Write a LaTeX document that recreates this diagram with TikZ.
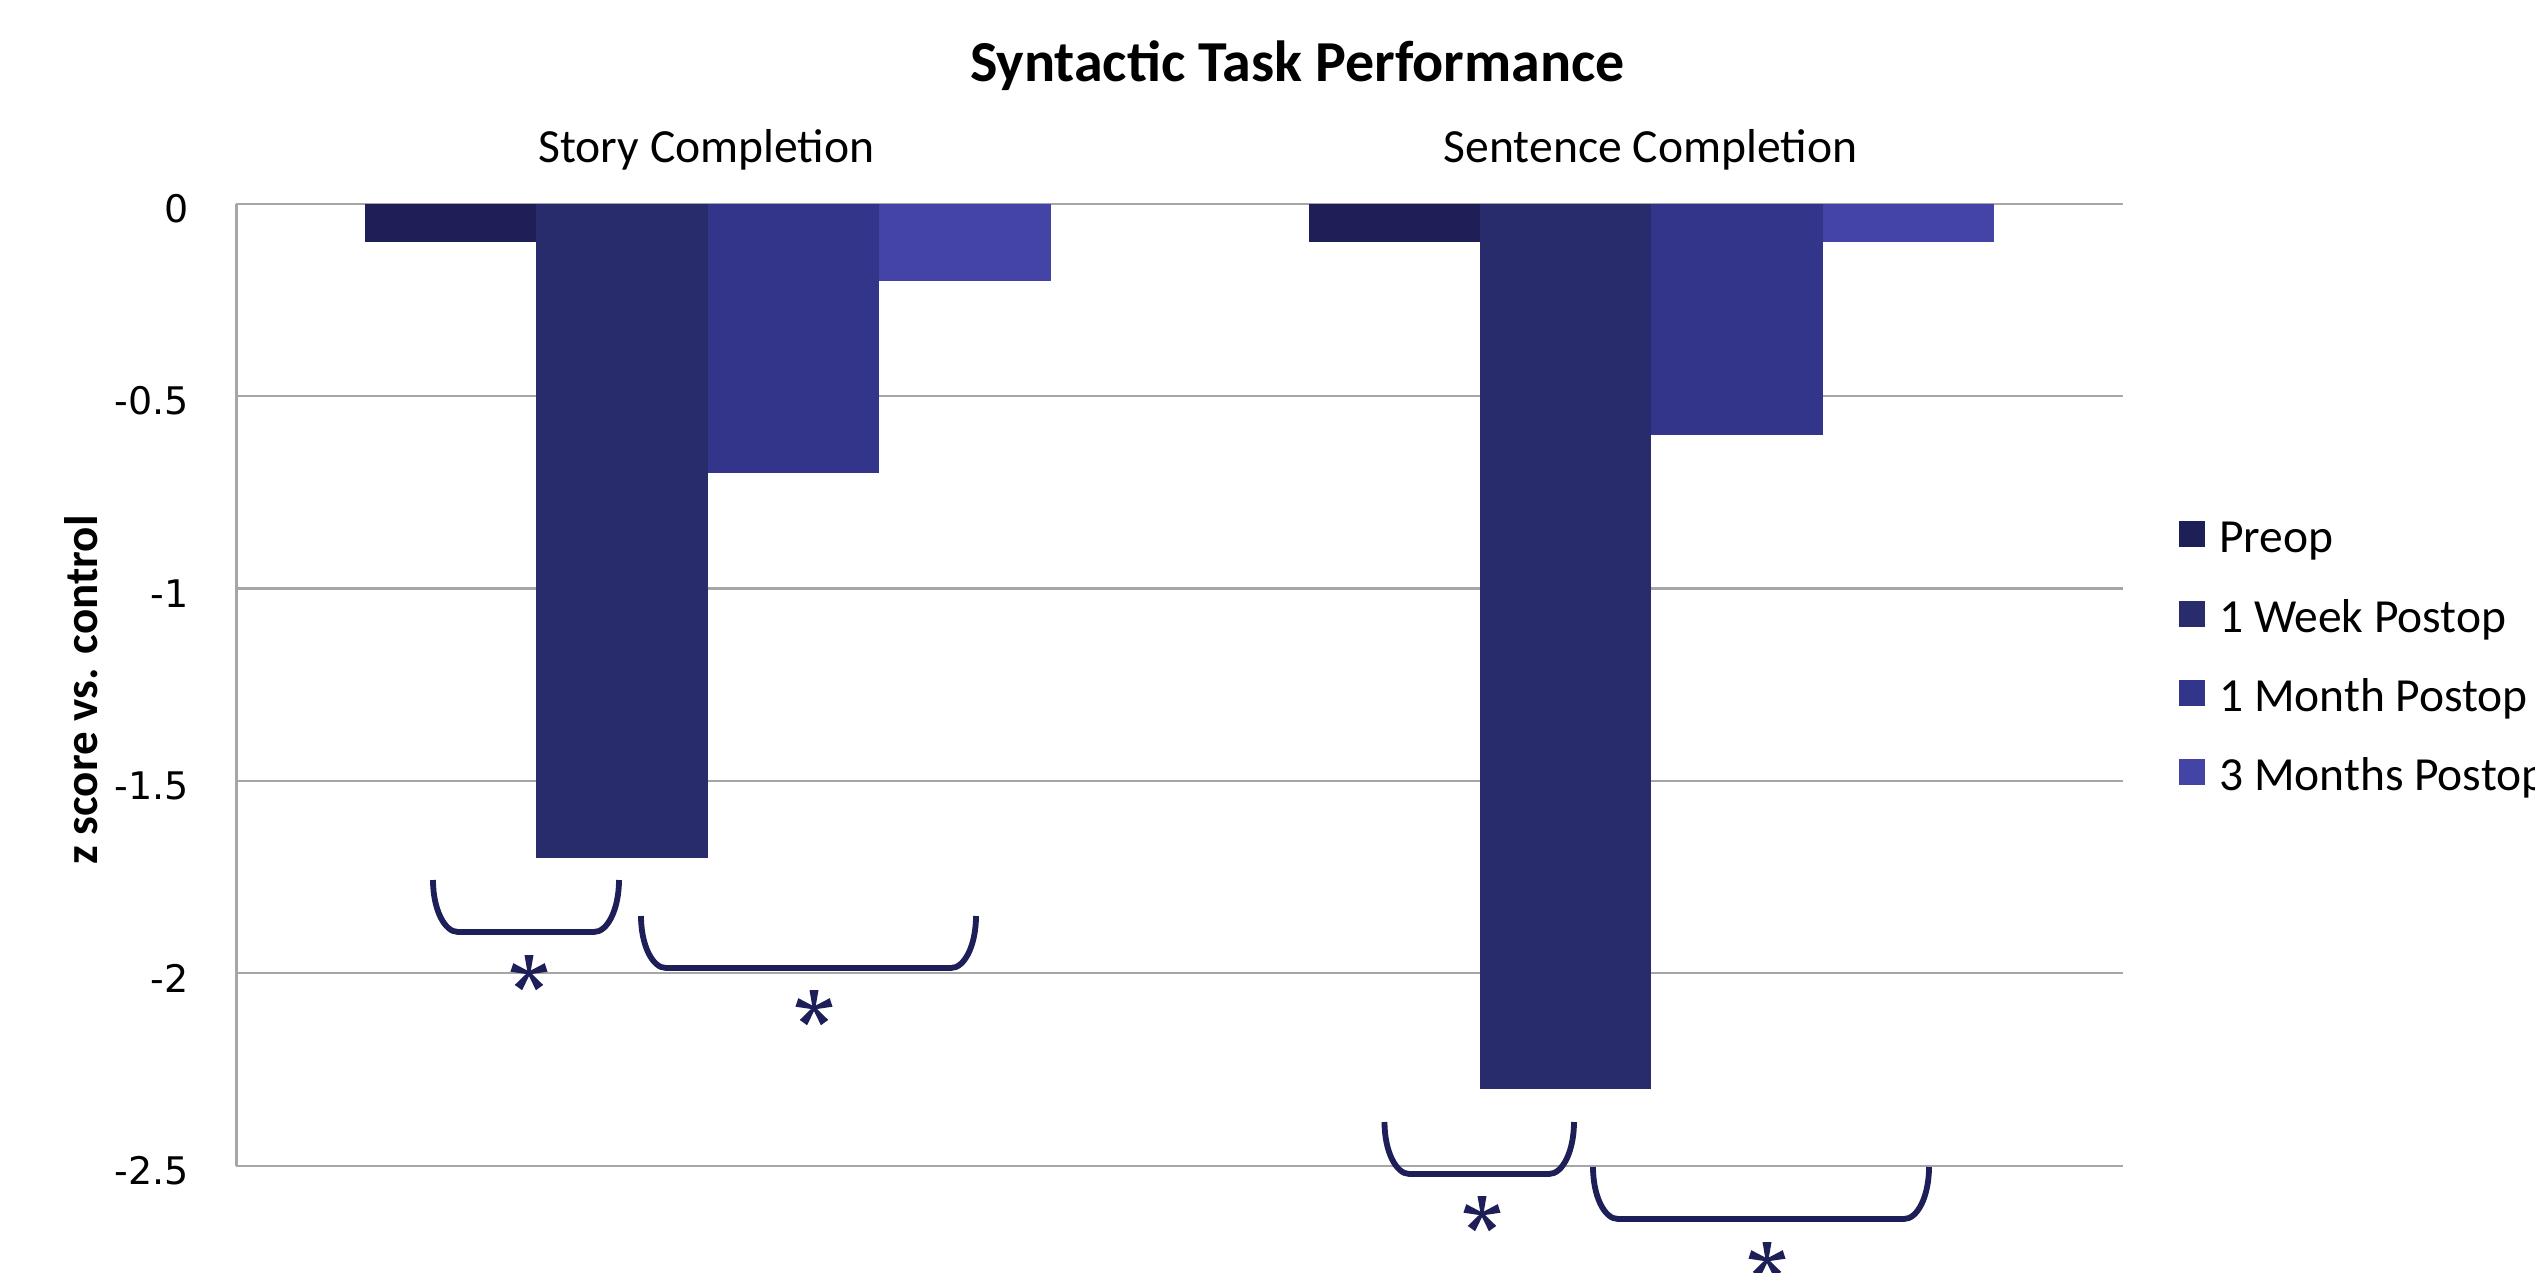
\documentclass[tikz,border=0pt]{standalone}
\usepackage{fontspec}
\setmainfont{Carlito}
\newfontfamily\tickfont{DejaVu Sans}
\definecolor{cPre}{RGB}{30,31,87}
\definecolor{cWk}{RGB}{41,44,108}
\definecolor{cMo}{RGB}{51,53,138}
\definecolor{cTh}{RGB}{68,68,166}
\definecolor{cBrk}{RGB}{30,30,88}
\definecolor{cGrid}{RGB}{166,166,166}
\tikzset{
  gridline/.style={draw=cGrid, line width=2.2pt},
  axisline/.style={draw=cGrid, line width=3pt},
  ticklab/.style={anchor=east, inner sep=0pt, font=\tickfont\fontsize{38}{40}\selectfont},
  catlab/.style={anchor=base, inner sep=0pt, font=\fontsize{47.6}{50}\selectfont},
  leglab/.style={anchor=base west, inner sep=0pt, font=\fontsize{47.5}{50}\selectfont},
  brk/.style={draw=cBrk, line width=5.8pt, line cap=butt},
  sigstar/.pic={\foreach \a in {90,18,162,-54,-126}
     \fill[cBrk, rotate=\a] (0,-1.4) -- (18,-4.5) -- (18,4.5) -- (0,1.4) -- cycle;}
}
\newcommand\sigbracket[4]{%
  \draw[brk] (#1,#3) .. controls (#1,#3+28.7) and (#1+11.2,#4) .. (#1+25,#4)
     -- (#2-25,#4) .. controls (#2-11.2,#4) and (#2,#3+28.7) .. (#2,#3);}
\begin{document}
\begin{tikzpicture}[x=1pt,y=-1pt]
\useasboundingbox (0,0) rectangle (2535,1272);
\clip (0,0) rectangle (2535,1272);
\fill[white] (0,0) rectangle (2535,1272);
% gridlines
\foreach \k in {0,1,2,3,4,5}
  \draw[gridline] (236,203.7+\k*192.38) -- (2123,203.7+\k*192.38);
\draw[axisline] (236,203.7) -- (236,1165.6);
% tick labels
\node[ticklab] (t0) at (189,208.7) {0};
\node[ticklab] (t1) at (189,401.1) {-0.5};
\node[ticklab] (t2) at (189,593.5) {-1};
\node[ticklab] (t3) at (189,785.9) {-1.5};
\node[ticklab] (t4) at (189,978.3) {-2};
\node[ticklab] (t5) at (189,1170.6) {-2.5};
% bars: story completion
\fill[cPre] (365,203.7) rectangle (536.4,242.2);
\fill[cWk]  (536.4,203.7) rectangle (707.8,857.8);
\fill[cMo]  (707.8,203.7) rectangle (879.2,473.0);
\fill[cTh]  (879.2,203.7) rectangle (1050.6,280.7);
% bars: sentence completion
\fill[cPre] (1308.6,203.7) rectangle (1480,242.2);
\fill[cWk]  (1480,203.7) rectangle (1651.4,1088.7);
\fill[cMo]  (1651.4,203.7) rectangle (1822.8,434.6);
\fill[cTh]  (1822.8,203.7) rectangle (1994.2,242.2);
% titles
\node[anchor=base, inner sep=0pt, font=\fontsize{58}{60}\selectfont\bfseries] (title) at (1297.5,81) {Syntactic Task Performance};
\node[catlab] (cat1) at (706.5,162) {Story Completion};
\node[catlab] (cat2) at (1650.5,162) {Sentence Completion};
\node[rotate=90, anchor=base, inner sep=0pt, font=\fontsize{47}{50}\selectfont\bfseries] (ylab) at (97,690) {z score vs. control};
% legend
\fill[cPre] (2179,521) rectangle (2205,547);
\fill[cWk]  (2179,600.5) rectangle (2205,626.5);
\fill[cMo]  (2179,679.5) rectangle (2205,705.5);
\fill[cTh]  (2179,759) rectangle (2205,785);
\node[leglab] (l1) at (2219,552.7) {Preop};
\node[leglab] (l2) at (2219,632) {1 Week Postop};
\node[leglab] (l3) at (2219,711.3) {1 Month Postop};
\node[leglab] (l4) at (2219,790.6) {3 Months Postop};
% significance brackets
\sigbracket{433}{619}{880}{932}
\sigbracket{641}{976}{916}{968}
\sigbracket{1384.5}{1574}{1122}{1174}
\sigbracket{1593}{1929}{1167}{1219}
\coordinate (s1) at (529,973);
\coordinate (s2) at (814,1008);
\coordinate (s3) at (1482,1214);
\coordinate (s4) at (1767,1260);
\foreach \s in {s1,s2,s3,s4} \pic at (\s) {sigstar};
\end{tikzpicture}
\end{document}
